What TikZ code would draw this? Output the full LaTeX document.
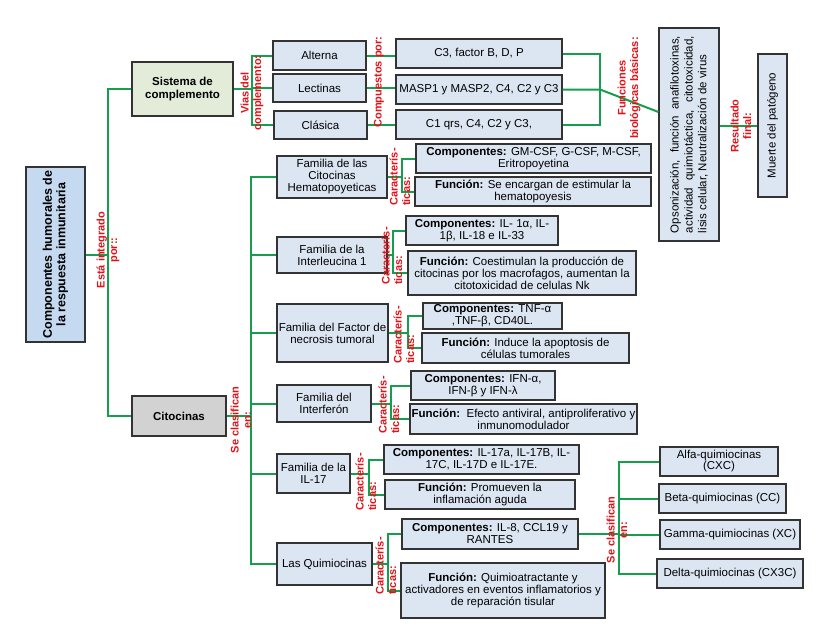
\documentclass[tikz,border=0pt]{standalone}
\usepackage{fontspec}
\setmainfont{Liberation Sans}
\definecolor{verde}{RGB}{22,158,78}
\definecolor{rojo}{RGB}{226,18,24}
\definecolor{azul}{RGB}{220,230,242}
\definecolor{azulos}{RGB}{197,217,240}
\definecolor{verdecl}{RGB}{227,236,216}
\definecolor{gris}{RGB}{210,210,210}

\begin{document}
\begin{tikzpicture}[x=1pt,y=-1pt,
caja/.style={draw=black!80,line width=1.1pt,fill=azul,align=center,inner sep=1pt,
font=\fontsize{11.5}{12}\selectfont},
enl/.style={draw=verde,line width=2pt},
etq/.style={text=rojo,font=\bfseries\fontsize{11}{12.5}\selectfont,align=center,rotate=90,inner sep=0pt}]
\useasboundingbox (0,0) rectangle (829,640);

\node[caja,fill=azulos,rotate=90,minimum width=175pt,minimum height=59pt,
font=\bfseries\fontsize{12.5}{13.5}\selectfont] (Hum) at (55.5,254.5) {Componentes humorales de\\la respuesta inmunitaria};
\node[caja,fill=verdecl,minimum width=101pt,minimum height=54pt,
font=\bfseries\fontsize{11.5}{12.5}\selectfont] (Sis) at (182.5,89) {Sistema de\\complemento};
\node[caja,fill=gris,minimum width=94pt,minimum height=40pt,
font=\bfseries\fontsize{11.5}{12.5}\selectfont] (Cit) at (179,416) {Citocinas};

\node[caja,minimum width=93pt,minimum height=29pt] (Alt) at (319.5,55.5) {Alterna};
\node[caja,minimum width=93pt,minimum height=28pt] (Lec) at (319.5,88) {Lectinas};
\node[caja,minimum width=93pt,minimum height=28pt] (Cla) at (320.5,125) {Clásica};
\node[caja,minimum width=166pt,minimum height=29pt] (CAlt) at (479,53.5) {C3, factor B, D, P};
\node[caja,minimum width=166pt,minimum height=29pt] (CLec) at (479,89.5) {MASP1 y MASP2, C4, C2 y C3};
\node[caja,minimum width=166pt,minimum height=29pt] (CCla) at (479,124.5) {C1 qrs, C4, C2 y C3,};
\node[caja,rotate=90,minimum width=213pt,minimum height=60pt,
font=\fontsize{11.5}{13.8}\selectfont] (Fun) at (689,134.5)
{\makebox[197pt][s]{Opsonización, función anafilotoxinas,}\\
\makebox[197pt][s]{actividad quimiotáctica, citotoxicidad,}\\
\makebox[197pt][l]{lisis celular, Neutralización de virus}};
\node[caja,rotate=90,minimum width=143pt,minimum height=29pt] (Mue) at (772.5,125.5) {Muerte del patógeno};

\node[caja,minimum width=110pt,minimum height=42pt] (F1) at (332,177) {Familia de las\\Citocinas\\Hematopoyeticas};
\node[caja,minimum width=110pt,minimum height=36pt] (F2) at (332,255) {Familia de la\\Interleucina 1};
\node[caja,minimum width=111pt,minimum height=58pt] (F3) at (332.5,333) {Familia del Factor de\\necrosis tumoral};
\node[caja,minimum width=94pt,minimum height=37pt] (F4) at (324,403.5) {Familia del\\Interferón};
\node[caja,minimum width=73pt,minimum height=39pt] (F5) at (313.5,473.5) {Familia de la\\IL-17};
\node[caja,minimum width=95pt,minimum height=42pt] (F6) at (324.5,564) {Las Quimiocinas};

\node[caja,minimum width=235pt,minimum height=29pt] (C1) at (533.5,158.5) {\textbf{Componentes:} GM-CSF, G-CSF, M-CSF,\\Eritropoyetina};
\node[caja,minimum width=236pt,minimum height=29pt] (D1) at (533,191.5) {\textbf{Función:} Se encargan de estimular la\\hematopoyesis};
\node[caja,minimum width=152pt,minimum height=29pt] (C2) at (482,230.5) {\textbf{Componentes:} IL- 1α, IL-\\1β, IL-18 e IL-33};
\node[caja,minimum width=228pt,minimum height=44pt] (D2) at (522,273) {\textbf{Función:} Coestimulan la producción de\\citocinas por los macrofagos, aumentan la\\citotoxicidad de celulas Nk};
\node[caja,minimum width=139pt,minimum height=26pt] (C3) at (492.5,316) {\textbf{Componentes:} TNF-α\\,TNF-β, CD40L.};
\node[caja,minimum width=207pt,minimum height=30pt] (D3) at (525.5,348) {\textbf{Función:} Induce la apoptosis de\\células tumorales};
\node[caja,minimum width=144pt,minimum height=29pt] (C4) at (483,385.5) {\textbf{Componentes:} IFN-α,\\IFN-β y IFN-λ};
\node[caja,minimum width=227pt,minimum height=30pt] (D4) at (523.5,419) {\textbf{Función:}\ \ Efecto antiviral, antiproliferativo y\\inmunomodulador};
\node[caja,minimum width=195pt,minimum height=29pt] (C5) at (481.5,459.5) {\textbf{Componentes:} IL-17a, IL-17B, IL-\\17C, IL-17D e IL-17E.};
\node[caja,minimum width=190pt,minimum height=29pt] (D5) at (480,494.5) {\textbf{Función:} Promueven la\\inflamación aguda};
\node[caja,minimum width=176pt,minimum height=30pt] (C6) at (490,534) {\textbf{Componentes:} IL-8, CCL19 y\\RANTES};
\node[caja,minimum width=204pt,minimum height=55pt] (D6) at (503,590.5) {\textbf{Función:} Quimioatractante y\\activadores en eventos inflamatorios y\\de reparación tisular};

\node[caja,minimum width=118pt,minimum height=29pt,font=\fontsize{11.5}{11}\selectfont] (Q1) at (719,461.5) {Alfa-quimiocinas\\(CXC)};
\node[caja,minimum width=127pt,minimum height=29pt] (Q2) at (722.5,498.5) {Beta-quimiocinas (CC)};
\node[caja,minimum width=140pt,minimum height=29pt] (Q3) at (730,534.5) {Gamma-quimiocinas (XC)};
\node[caja,minimum width=146pt,minimum height=29pt] (Q4) at (730,573.5) {Delta-quimiocinas (CX3C)};

\coordinate (kH) at (108,254.5);
\draw[enl] (Hum.south) -- (kH);
\draw[enl] (Sis.west) -| (kH) |- (Cit.west);
\coordinate (kS) at (252,89);
\draw[enl] (Sis.east) -- (kS);
\draw[enl] (Alt.west) -| (kS) |- (Cla.west);
\draw[enl] (Lec.west) -- (Lec.west -| kS);
\draw[enl] (Alt.east) -- (Alt.east -| CAlt.west);
\draw[enl] (Lec.east) -- (Lec.east -| CLec.west);
\draw[enl] (Cla.east) -- (Cla.east -| CCla.west);
\coordinate (kB) at (600,89.5);
\draw[enl] (CAlt.east) -| (kB) |- (CCla.east);
\draw[enl] (CLec.east) -- (kB) -- ([yshift=22.5pt]Fun.north);
\draw[enl] (Fun.south |- Mue.center) -- (Mue.north);
\coordinate (kC) at (251,416);
\draw[enl] (Cit.east) -- (kC);
\draw[enl] (F1.west) -| (kC) |- (F6.west);
\foreach \f in {F2,F3,F4,F5}
  \draw[enl] (\f.west) -- (\f.west -| kC);
\foreach \f/\c/\d/\dx in {F1/C1/D1/14,F2/C2/D2/5,F3/C3/D3/19,F4/C4/D4/19,F5/C5/D5/18,F6/C6/D6/15}{
  \path (\f.east) ++(\dx,0) coordinate (b\f);
  \draw[enl] (\f.east) -- (b\f);
  \draw[enl] (\c.west) -| (b\f) |- (\d.west);
}
\path (C6.east) ++(40,0) coordinate (kQ);
\draw[enl] (C6.east) -- (kQ);
\draw[enl] (Q1.west) -| (kQ) |- (Q4.west);
\foreach \q in {Q2,Q3}
  \draw[enl] (\q.west) -- (\q.west -| kQ);

\node[etq] (lH) at (108,250) {Está integrado\\por::};
\node[etq] (lS) at (252,93) {Vias del\\complemento:};
\node[etq] (lA) at (379,82) {Compuestos por:};
\node[etq] (lB) at (629,88) {Funciones\\biológicas básicas:};
\node[etq] (lR) at (741,126) {Resultado\\final:};
\node[etq] (lC) at (241,420) {Se clasifican\\en:};
\node[etq] (lQ) at (617,530) {Se clasifican\\en:};
\foreach \n/\x/\y in {1/400/177,2/392/256,3/404/335,4/389/405,5/366/482,6/386/566}
  \node[etq,align=left] (lF\n) at (\x,\y) {Caracterís-\\ticas:};
\end{tikzpicture}
\end{document}
